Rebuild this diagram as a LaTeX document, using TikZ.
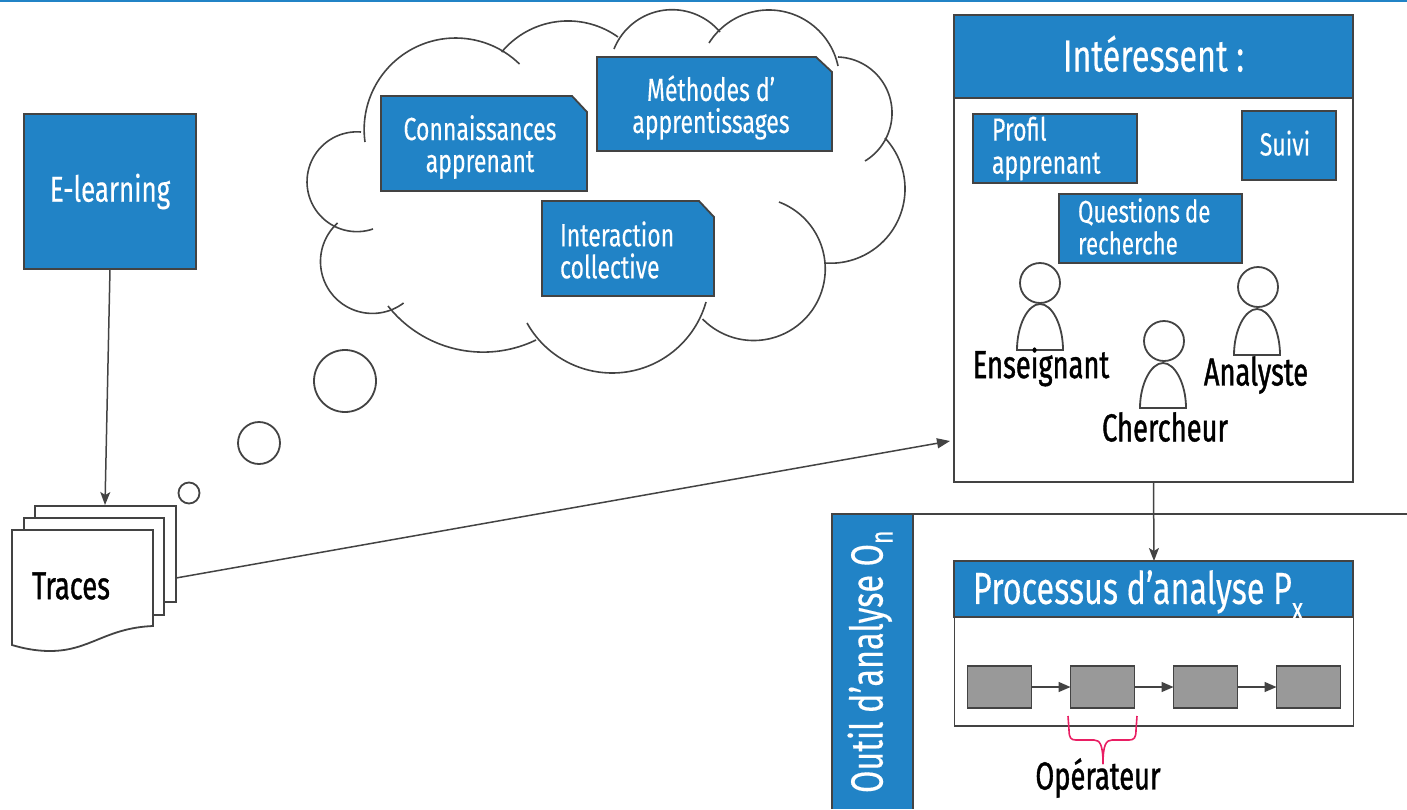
\documentclass[tikz,border=0pt]{standalone}
\usepackage{fontspec}
\setmainfont{Fira Sans}
\newfontfamily\lightf[FakeStretch=0.72,FakeBold=0.25]{Fira Sans}
\newfontfamily\darkf[FakeStretch=0.70,FakeBold=1.0]{Fira Sans}
\usetikzlibrary{arrows.meta}
\definecolor{bluef}{HTML}{2183C6}
\definecolor{edge}{HTML}{434343}
\definecolor{grayf}{HTML}{999999}
\definecolor{pinkc}{HTML}{E91E63}
\tikzset{
  x=.5pt,y=-.5pt,
  every node/.style={inner sep=0pt,outer sep=0pt},
  line/.style={draw=edge,line width=.9pt},
  bluebox/.style={line,fill=bluef,text=white,font=\lightf\fontsize{16}{16}\selectfont,align=center},
  leftbox/.style={bluebox,align=left},
  whitebox/.style={line,fill=white},
  graybox/.style={line,fill=grayf,minimum width=32pt,minimum height=21pt},
  blacklabel/.style={text=black,font=\darkf\fontsize{19.5}{19.5}\selectfont},
  arrowline/.style={draw=edge,line width=.75pt,-{Stealth[length=6.5pt,width=5pt,inset=1.5pt]}},
  solidarrow/.style={draw=edge,line width=.75pt,-{Triangle[length=6pt,width=5pt]}},
  cloudline/.style={draw=edge,line width=.8pt},
}
% circular arc through three points: start, middle, end (reference pixels)
\newcommand\lobe[6]{%
  \pgfmathsetmacro\ax{(#3-#1)/100}\pgfmathsetmacro\ay{(#4-#2)/100}%
  \pgfmathsetmacro\bx{(#5-#1)/100}\pgfmathsetmacro\by{(#6-#2)/100}%
  \pgfmathsetmacro\dd{2*(\ax*\by-\ay*\bx)}%
  \pgfmathsetmacro\ux{(\by*(\ax*\ax+\ay*\ay)-\ay*(\bx*\bx+\by*\by))/\dd}%
  \pgfmathsetmacro\uy{(\ax*(\bx*\bx+\by*\by)-\bx*(\ax*\ax+\ay*\ay))/\dd}%
  \pgfmathsetmacro\rr{100*sqrt(\ux*\ux+\uy*\uy)}%
  \pgfmathsetmacro\cx{#1+100*\ux}\pgfmathsetmacro\cy{#2+100*\uy}%
  \pgfmathsetmacro\ta{atan2(-\uy,-\ux)}%
  \pgfmathsetmacro\tb{atan2(\by-\uy,\bx-\ux)}%
  \pgfmathsetmacro\tc{\dd>0 ? (\tb<\ta ? \tb+360 : \tb) : (\tb>\ta ? \tb-360 : \tb)}%
  \draw[cloudline] plot[domain=\ta:\tc,samples=50,smooth,variable=\t] ({\cx+\rr*cos(\t)},{\cy+\rr*sin(\t)});%
}
\begin{document}
\begin{tikzpicture}
\useasboundingbox (0,0) rectangle (1407,809);
\fill[bluef] (0,0) rectangle (1407,2);

% thought cloud
\lobe{365}{142}{407}{52}{519.5}{64}
\lobe{501.7}{52}{565}{21}{618}{37}
\lobe{614}{49}{666}{10}{720}{32}
\lobe{709}{43}{770.5}{10}{838}{66}
\lobe{838}{57}{892}{115}{865}{161}
\lobe{885}{138}{905}{187}{825}{263}
\lobe{779}{202}{825}{263}{702.5}{319}
\lobe{706}{302}{613}{373}{527}{323}
\lobe{536}{340}{478}{352}{388}{306}
\lobe{403.6}{303}{320.6}{258}{337.6}{223}
\lobe{373}{229}{307}{182}{361}{132}
\node[line,circle,minimum size=31pt] (c1) at (345,381) {};
\node[line,circle,minimum size=21pt] (c2) at (259,443) {};
\node[line,circle,minimum size=10.5pt] (c3) at (189,493) {};

% cut-corner boxes in the cloud
\draw[line,fill=bluef] (381,96) -- (572,96) -- (587,112) -- (587,191) -- (381,191) -- cycle;
\node[bluebox,draw=none,fill=none] (conn) at (480,147) {Connaissances\\apprenant};
\draw[line,fill=bluef] (597,57) -- (816,57) -- (832,72) -- (832,151) -- (597,151) -- cycle;
\node[bluebox,draw=none,fill=none] (meth) at (711,107.5) {Méthodes d’\\apprentissages};
\draw[line,fill=bluef] (542,201) -- (699,201) -- (714,217) -- (714,296) -- (542,296) -- cycle;
\node[leftbox,draw=none,fill=none,anchor=west] (inter) at (560,250) {Interaction\\collective};

% left column
\node[bluebox,minimum width=86pt,minimum height=77.5pt,font=\lightf\fontsize{18}{18}\selectfont] (elearn) at (110,191.5) {\raisebox{-.5pt}{E-learning}};
\node[whitebox,minimum width=70.5pt,minimum height=48pt] (s3) at (105.5,554) {};
\node[whitebox,minimum width=70pt,minimum height=48.5pt] (s2) at (94,566.5) {};
\path[line,fill=white] (12,530) -- (153,530) -- (153,626) .. controls (105,628) and (90,651) .. (50,651) .. controls (35,651) and (22,648) .. (12,645) -- cycle;
\node[blacklabel] (traces) at (71,586) {Traces};
\coordinate (elearnout) at (110,269);
\coordinate (tracesin) at (105,505);
\draw[arrowline] (elearnout) -- (tracesin);

% Intéressent
\node[whitebox,minimum width=199.5pt,minimum height=233.5pt] (int) at (1153.5,248.5) {};
\node[bluebox,minimum width=199.5pt,minimum height=41.5pt,font=\lightf\fontsize{22.5}{23}\selectfont] (inth) at (1153.5,56.5) {\raisebox{3pt}{Intéressent :}};
\node[leftbox,minimum width=82pt,minimum height=34.5pt,text width=63pt] (profil) at (1055,148.5) {\raisebox{.5pt}{Profil}\\apprenant};
\node[bluebox,minimum width=47pt,minimum height=34.5pt] (suivi) at (1289,145.5) {\hspace*{-4pt}\raisebox{2.5pt}{Suivi}};
\node[leftbox,minimum width=91.5pt,minimum height=34.5pt,text width=72.5pt,font=\lightf\fontsize{15.5}{16}\selectfont] (quest) at (1150.5,228.5) {\raisebox{2.2pt}{Questions\hspace{2.5pt}de}\\\raisebox{2.2pt}{recherche}};

% people
\node[line,circle,minimum size=20pt] (h1) at (1040,283) {};
\draw[line] (1017,350) .. controls (1017,325) and (1028,304) .. (1040,304) .. controls (1052,304) and (1063,325) .. (1063,350) -- cycle;
\node[line,circle,minimum size=20pt] (h2) at (1258,287) {};
\draw[line] (1234,355) .. controls (1234,330) and (1245,309) .. (1257,309) .. controls (1269,309) and (1280,330) .. (1280,355) -- cycle;
\node[line,circle,minimum size=20pt] (h3) at (1164,341) {};
\draw[line] (1140,408) .. controls (1140,384) and (1151,363) .. (1163,363) .. controls (1175,363) and (1186,384) .. (1186,408) -- cycle;
\node[blacklabel] (ens) at (1041,367) {Enseignant};
\node[blacklabel] (ana) at (1256,375) {Analyste};
\node[blacklabel] (che) at (1165,427) {Chercheur};

% Outil
\coordinate (rightedge) at (1407,514);
\fill[bluef] (832,514) rectangle (913,809);
\draw[line] (rightedge) -- (832,514) -- (832,809);
\draw[line] (913,514) -- (913,809);
\node[rotate=90,anchor=west,text=white,font=\lightf\fontsize{22.5}{23}\selectfont] (outil) at (870,793) {Outil d’analyse O\raisebox{-5pt}{\fontsize{16}{16}\selectfont n}};

% Processus
\node[whitebox,minimum width=199.5pt,minimum height=82.5pt] (proc) at (1154,643.5) {};
\fill[bluef] (954,561) rectangle (1353,617);
\draw[line] (954,561) rectangle (1353,617);
\node[anchor=west,text=white,font=\lightf\fontsize{22.5}{23}\selectfont] (proct) at (973,595) {Processus d’analyse P\raisebox{-8pt}{\fontsize{16}{16}\selectfont x}};
\draw[arrowline] (int.south) -- (proc.north);

\node[graybox] (g1) at (999.5,687) {};
\node[graybox] (g2) at (1102.5,687) {};
\node[graybox] (g3) at (1205.5,687) {};
\node[graybox] (g4) at (1308.5,687) {};
\draw[solidarrow] (g1) -- (g2);
\draw[solidarrow] (g2) -- (g3);
\draw[solidarrow] (g3) -- (g4);

\coordinate (tracesout) at (176,578);
\coordinate (intin) at (950,441);
\draw[arrowline,-{Triangle[length=6.5pt,width=5pt]}] (tracesout) -- (intin);

% brace
\coordinate (bl) at (1068,716);
\coordinate (br) at (1137,716);
\coordinate (bm) at (1103,764);
\draw[pinkc,line width=.8pt] (bl) -- (1069,730) .. controls (1069,738) and (1071,740) .. (1076,740) -- (1094,740) .. controls (1100,740) and (1103,745) .. (bm);
\draw[pinkc,line width=.8pt] (br) -- (1136,730) .. controls (1136,738) and (1134,740) .. (1129,740) -- (1112,740) .. controls (1106,740) and (1103,745) .. (bm);
\node[blacklabel] (op) at (1098,778) {Opérateur};
\end{tikzpicture}
\end{document}
